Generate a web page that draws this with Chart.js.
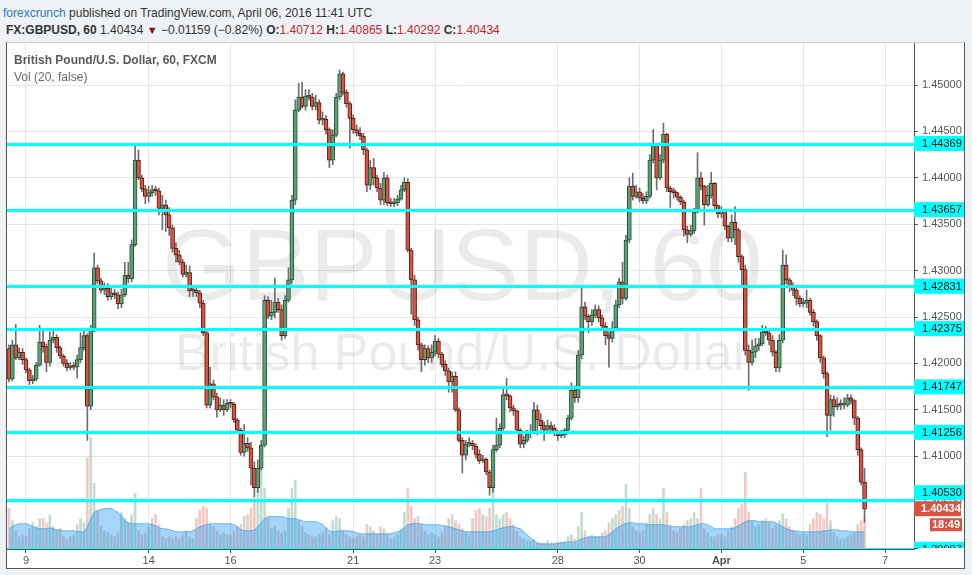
<!DOCTYPE html>
<html>
<head>
<meta charset="utf-8">
<title>GBPUSD 60</title>
<script src="https://cdn.jsdelivr.net/npm/chart.js@4.4.0/dist/chart.umd.min.js"></script>
<style>
  html, body { margin: 0; padding: 0; }
  body {
    width: 972px; height: 575px; overflow: hidden; position: relative;
    background: #eff2f5;
    font-family: "Liberation Sans", Arial, sans-serif;
  }
  .hdr { position: absolute; font-size: 12px; line-height: 14px; color: #333; white-space: nowrap; }
  #line1 { left: 3px; top: 6px; }
  #line2 { left: 6px; top: 23px; }
  .brand { color: #2f78bd; }
  .red { color: #c0282d; }
  .arrow { color: #8b1414; font-size: 11px; }
  #box {
    position: absolute; left: 6px; top: 42px; width: 957px; height: 525px;
    border: 1px solid #555; border-top-color: #cfcfcf; background: #fff;
  }
  canvas { display: block; }
</style>
</head>
<body>
<div class="hdr" id="line1"><span class="brand">forexcrunch</span> published on TradingView.com, April 06, 2016 11:41 UTC</div>
<div class="hdr" id="line2"><b>FX:GBPUSD, 60</b> 1.40434 <span class="arrow">▼</span> −0.01159 (−0.82%) <b>O:</b><span class="red">1.40712</span> <b>H:</b><span class="red">1.40865</span> <b>L:</b><span class="red">1.40292</span> <b>C:</b><span class="red">1.40434</span></div>
<div id="box"><canvas id="chart" width="957" height="525"></canvas></div>

<script>
'use strict';

// 2-hour bars. Bar 0 = start of the 9 Mar session.
const firstBar = -5;
const firstOpen = 1.4216;

const closes = [
  1.4183, 1.4220, 1.4206, 1.4212, 1.4204, 1.4193, 1.4181, 1.4183, 1.4198, 1.4223,
  1.4218, 1.4201, 1.4225, 1.4228, 1.4217, 1.4208, 1.4200, 1.4195, 1.4197, 1.4196,
  1.4204, 1.4217, 1.4230, 1.4154, 1.4236, 1.4303, 1.4289, 1.4279, 1.4281, 1.4272,
  1.4276, 1.4274, 1.4264, 1.4274, 1.4295, 1.4291, 1.4328, 1.4419, 1.4400, 1.4388,
  1.4380, 1.4384, 1.4387, 1.4386, 1.4367, 1.4371, 1.4360, 1.4346, 1.4324, 1.4317,
  1.4309, 1.4296, 1.4298, 1.4278, 1.4279, 1.4276, 1.4265, 1.4233, 1.4155, 1.4178,
  1.4164, 1.4150, 1.4155, 1.4150, 1.4157, 1.4156, 1.4139, 1.4128, 1.4104, 1.4114,
  1.4109, 1.4087, 1.4066, 1.4087, 1.4112, 1.4268, 1.4251, 1.4255, 1.4266, 1.4258,
  1.4230, 1.4268, 1.4290, 1.4376, 1.4473, 1.4487, 1.4477, 1.4488, 1.4487, 1.4477,
  1.4481, 1.4462, 1.4463, 1.4452, 1.4419, 1.4446, 1.4487, 1.4512, 1.4492, 1.4480,
  1.4464, 1.4452, 1.4448, 1.4445, 1.4430, 1.4392, 1.4411, 1.4400, 1.4389, 1.4376,
  1.4400, 1.4373, 1.4372, 1.4373, 1.4377, 1.4387, 1.4395, 1.4322, 1.4290, 1.4247,
  1.4220, 1.4204, 1.4216, 1.4206, 1.4212, 1.4224, 1.4210, 1.4199, 1.4192, 1.4180,
  1.4186, 1.4150, 1.4117, 1.4101, 1.4113, 1.4114, 1.4111, 1.4102, 1.4095, 1.4097,
  1.4083, 1.4066, 1.4107, 1.4112, 1.4130, 1.4166, 1.4165, 1.4152, 1.4149, 1.4128,
  1.4113, 1.4117, 1.4124, 1.4126, 1.4150, 1.4139, 1.4133, 1.4128, 1.4133, 1.4130,
  1.4126, 1.4122, 1.4123, 1.4128, 1.4141, 1.4171, 1.4163, 1.4209, 1.4261, 1.4251,
  1.4245, 1.4252, 1.4258, 1.4249, 1.4240, 1.4230, 1.4227, 1.4238, 1.4263, 1.4288,
  1.4270, 1.4333, 1.4391, 1.4380, 1.4385, 1.4378, 1.4375, 1.4380, 1.4419, 1.4435,
  1.4400, 1.4419, 1.4447, 1.4389, 1.4385, 1.4384, 1.4379, 1.4374, 1.4344, 1.4339,
  1.4343, 1.4363, 1.4400, 1.4391, 1.4371, 1.4381, 1.4394, 1.4370, 1.4361, 1.4364,
  1.4348, 1.4335, 1.4352, 1.4344, 1.4315, 1.4301, 1.4214, 1.4201, 1.4212, 1.4219,
  1.4221, 1.4234, 1.4233, 1.4225, 1.4212, 1.4195, 1.4225, 1.4306, 1.4290, 1.4282,
  1.4279, 1.4270, 1.4264, 1.4265, 1.4268, 1.4255, 1.4245, 1.4230, 1.4206, 1.4189,
  1.4144, 1.4161, 1.4153, 1.4156, 1.4155, 1.4155, 1.4163, 1.4160, 1.4141, 1.4107,
  1.4072, 1.4043
];

const highs = [
  1.4220, 1.4225, 1.4242, 1.4217, 1.4216, 1.4206, 1.4195, 1.4187, 1.4201, 1.4241,
  1.4236, 1.4221, 1.4234, 1.4236, 1.4231, 1.4219, 1.4210, 1.4204, 1.4201, 1.4201,
  1.4209, 1.4233, 1.4236, 1.4232, 1.4241, 1.4319, 1.4306, 1.4292, 1.4287, 1.4286,
  1.4281, 1.4280, 1.4277, 1.4280, 1.4309, 1.4309, 1.4333, 1.4436, 1.4430, 1.4403,
  1.4392, 1.4391, 1.4392, 1.4391, 1.4389, 1.4381, 1.4376, 1.4368, 1.4349, 1.4330,
  1.4322, 1.4312, 1.4306, 1.4305, 1.4283, 1.4282, 1.4279, 1.4268, 1.4236, 1.4196,
  1.4182, 1.4168, 1.4163, 1.4161, 1.4161, 1.4161, 1.4158, 1.4141, 1.4130, 1.4134,
  1.4120, 1.4115, 1.4094, 1.4096, 1.4117, 1.4273, 1.4272, 1.4268, 1.4292, 1.4270,
  1.4263, 1.4273, 1.4303, 1.4381, 1.4484, 1.4502, 1.4503, 1.4495, 1.4495, 1.4491,
  1.4489, 1.4484, 1.4471, 1.4467, 1.4454, 1.4452, 1.4491, 1.4516, 1.4514, 1.4495,
  1.4482, 1.4468, 1.4457, 1.4454, 1.4448, 1.4432, 1.4419, 1.4421, 1.4403, 1.4394,
  1.4406, 1.4403, 1.4378, 1.4378, 1.4381, 1.4392, 1.4400, 1.4399, 1.4324, 1.4295,
  1.4250, 1.4222, 1.4220, 1.4219, 1.4220, 1.4230, 1.4227, 1.4212, 1.4203, 1.4195,
  1.4191, 1.4191, 1.4152, 1.4120, 1.4117, 1.4120, 1.4117, 1.4113, 1.4107, 1.4101,
  1.4098, 1.4085, 1.4112, 1.4141, 1.4135, 1.4173, 1.4184, 1.4166, 1.4155, 1.4150,
  1.4130, 1.4122, 1.4128, 1.4134, 1.4158, 1.4155, 1.4146, 1.4137, 1.4139, 1.4137,
  1.4134, 1.4128, 1.4128, 1.4130, 1.4144, 1.4179, 1.4176, 1.4214, 1.4282, 1.4266,
  1.4253, 1.4258, 1.4263, 1.4262, 1.4252, 1.4244, 1.4234, 1.4245, 1.4268, 1.4292,
  1.4309, 1.4338, 1.4400, 1.4405, 1.4392, 1.4389, 1.4383, 1.4385, 1.4425, 1.4452,
  1.4437, 1.4425, 1.4459, 1.4448, 1.4391, 1.4389, 1.4385, 1.4381, 1.4376, 1.4348,
  1.4349, 1.4367, 1.4427, 1.4406, 1.4392, 1.4392, 1.4406, 1.4395, 1.4371, 1.4369,
  1.4366, 1.4349, 1.4360, 1.4369, 1.4346, 1.4317, 1.4306, 1.4220, 1.4225, 1.4227,
  1.4227, 1.4241, 1.4240, 1.4236, 1.4230, 1.4214, 1.4231, 1.4322, 1.4317, 1.4292,
  1.4287, 1.4282, 1.4273, 1.4270, 1.4279, 1.4270, 1.4258, 1.4247, 1.4231, 1.4208,
  1.4191, 1.4166, 1.4165, 1.4163, 1.4161, 1.4163, 1.4167, 1.4166, 1.4161, 1.4143,
  1.4109, 1.4087
];

const lows = [
  1.4180, 1.4181, 1.4204, 1.4204, 1.4199, 1.4190, 1.4177, 1.4178, 1.4181, 1.4197,
  1.4212, 1.4191, 1.4197, 1.4222, 1.4212, 1.4205, 1.4197, 1.4192, 1.4193, 1.4193,
  1.4184, 1.4201, 1.4214, 1.4117, 1.4150, 1.4234, 1.4286, 1.4276, 1.4274, 1.4268,
  1.4269, 1.4270, 1.4259, 1.4260, 1.4272, 1.4287, 1.4288, 1.4326, 1.4398, 1.4385,
  1.4372, 1.4374, 1.4380, 1.4381, 1.4360, 1.4344, 1.4342, 1.4338, 1.4320, 1.4309,
  1.4306, 1.4293, 1.4293, 1.4272, 1.4272, 1.4272, 1.4260, 1.4230, 1.4152, 1.4152,
  1.4161, 1.4142, 1.4148, 1.4144, 1.4148, 1.4152, 1.4136, 1.4125, 1.4101, 1.4100,
  1.4105, 1.4069, 1.4056, 1.4061, 1.4085, 1.4110, 1.4248, 1.4247, 1.4249, 1.4255,
  1.4225, 1.4227, 1.4266, 1.4286, 1.4371, 1.4471, 1.4475, 1.4473, 1.4484, 1.4473,
  1.4473, 1.4458, 1.4457, 1.4447, 1.4411, 1.4414, 1.4444, 1.4484, 1.4489, 1.4476,
  1.4432, 1.4448, 1.4445, 1.4441, 1.4425, 1.4385, 1.4387, 1.4392, 1.4385, 1.4371,
  1.4371, 1.4370, 1.4369, 1.4369, 1.4370, 1.4376, 1.4385, 1.4320, 1.4253, 1.4241,
  1.4214, 1.4191, 1.4198, 1.4201, 1.4201, 1.4208, 1.4206, 1.4196, 1.4187, 1.4169,
  1.4169, 1.4148, 1.4115, 1.4082, 1.4096, 1.4110, 1.4107, 1.4098, 1.4092, 1.4093,
  1.4080, 1.4058, 1.4061, 1.4105, 1.4109, 1.4128, 1.4161, 1.4148, 1.4144, 1.4125,
  1.4109, 1.4109, 1.4115, 1.4120, 1.4124, 1.4123, 1.4128, 1.4117, 1.4126, 1.4126,
  1.4122, 1.4117, 1.4120, 1.4120, 1.4126, 1.4139, 1.4158, 1.4158, 1.4205, 1.4247,
  1.4233, 1.4241, 1.4249, 1.4245, 1.4236, 1.4220, 1.4196, 1.4223, 1.4236, 1.4260,
  1.4264, 1.4268, 1.4330, 1.4376, 1.4378, 1.4374, 1.4372, 1.4372, 1.4378, 1.4416,
  1.4387, 1.4398, 1.4416, 1.4385, 1.4368, 1.4378, 1.4376, 1.4371, 1.4337, 1.4330,
  1.4337, 1.4340, 1.4362, 1.4387, 1.4349, 1.4369, 1.4378, 1.4365, 1.4357, 1.4357,
  1.4344, 1.4331, 1.4331, 1.4328, 1.4309, 1.4284, 1.4209, 1.4171, 1.4198, 1.4206,
  1.4214, 1.4219, 1.4230, 1.4220, 1.4208, 1.4191, 1.4191, 1.4222, 1.4286, 1.4277,
  1.4273, 1.4263, 1.4261, 1.4261, 1.4260, 1.4252, 1.4240, 1.4225, 1.4201, 1.4184,
  1.4121, 1.4128, 1.4143, 1.4150, 1.4150, 1.4151, 1.4153, 1.4156, 1.4134, 1.4101,
  1.4069, 1.4029
];

// volume, in hundreds of ticks
const volumes = [
  40, 28, 18, 12, 14, 12, 20, 26, 22, 30,
  30, 26, 34, 22, 18, 20, 12, 10, 12, 14,
  24, 30, 26, 90, 110, 65, 38, 22, 18, 16,
  14, 12, 16, 36, 30, 26, 34, 55, 18, 14,
  16, 22, 30, 34, 24, 12, 10, 12, 10, 12,
  10, 14, 18, 12, 10, 30, 38, 42, 40, 24,
  22, 18, 14, 16, 14, 14, 18, 22, 24, 32,
  34, 40, 50, 65, 88, 60, 30, 20, 22, 18,
  16, 18, 40, 60, 68, 28, 22, 16, 14, 12,
  12, 14, 16, 20, 14, 28, 32, 30, 18, 14,
  12, 10, 12, 14, 12, 24, 22, 18, 14, 22,
  20, 14, 10, 12, 14, 20, 36, 60, 42, 30,
  32, 24, 18, 14, 16, 14, 12, 16, 22, 30,
  34, 28, 24, 20, 16, 14, 30, 38, 40, 34,
  32, 40, 70, 34, 30, 34, 36, 30, 24, 18,
  12, 10, 8, 8, 10, 6, 6, 6, 8, 6,
  6, 6, 7, 8, 12, 14, 10, 22, 36, 18,
  12, 14, 12, 12, 16, 18, 26, 30, 34, 38,
  42, 64, 40, 22, 18, 16, 18, 26, 34, 40,
  34, 30, 60, 36, 22, 18, 16, 20, 24, 28,
  30, 36, 30, 60, 20, 16, 12, 12, 14, 14,
  12, 18, 22, 30, 40, 44, 76, 36, 28, 22,
  24, 28, 30, 26, 20, 24, 28, 35, 30, 22,
  18, 16, 14, 16, 14, 24, 30, 36, 34, 30,
  45, 28, 16, 12, 10, 10, 12, 14, 16, 24,
  28, 30
];

// Vol (20) moving average as drawn on the chart
const volumeMA = [
  20, 22, 24, 25, 25, 25, 24, 22, 21, 20,
  20, 20, 21, 20, 19, 19, 18, 18, 18, 18,
  17, 17, 17, 22, 30, 36, 38, 39, 40, 40,
  40, 38, 36, 33, 28, 26, 25, 25, 25, 25,
  25, 25, 24, 23, 21, 20, 20, 19, 18, 17,
  17, 17, 17, 17, 18, 20, 22, 23, 24, 25,
  25, 25, 25, 25, 25, 25, 24, 22, 19, 18,
  18, 18, 19, 22, 26, 30, 32, 32, 32, 32,
  32, 31, 30, 30, 30, 29, 28, 27, 27, 27,
  27, 26, 24, 21, 18, 17, 17, 18, 18, 18,
  18, 17, 16, 15, 15, 15, 15, 15, 15, 15,
  15, 15, 15, 16, 17, 18, 21, 24, 25, 25,
  25, 25, 24, 24, 24, 24, 24, 23, 23, 22,
  21, 20, 19, 18, 17, 17, 17, 17, 17, 17,
  17, 17, 18, 19, 20, 21, 22, 22, 22, 21,
  20, 17, 14, 11, 8, 6, 5, 5, 5, 5,
  5, 6, 6, 6, 7, 7, 7, 8, 10, 11,
  12, 12, 12, 12, 12, 12, 14, 17, 20, 22,
  24, 25, 26, 26, 25, 25, 25, 24, 24, 24,
  24, 24, 24, 23, 23, 22, 22, 22, 22, 22,
  22, 23, 24, 25, 25, 24, 22, 20, 20, 20,
  20, 20, 20, 21, 23, 25, 27, 28, 28, 28,
  27, 27, 27, 27, 27, 26, 24, 22, 20, 19,
  18, 18, 17, 17, 17, 17, 17, 17, 17, 18,
  18, 19, 19, 19, 18, 18, 18, 17, 17, 17,
  17, 17
];

const dayLabels = ['9', '14', '16', '21', '23', '28', '30', 'Apr', '5', '7'];
const dayOffsets = [0, 3, 5, 8, 10, 13, 15, 17, 19, 21]; // trading days after 9 Mar
const barsPerDay = 12;

const levels = [1.44369, 1.43657, 1.42831, 1.42375, 1.41747, 1.41256, 1.40530, 1.39997];
const lastPrice = 1.40434;
const countdown = '18:49';

const FONT = '"Liberation Sans", Arial, sans-serif';
const UP = '#5f9f78', DOWN = '#d75442';
const UP_BORDER = '#225437', DOWN_BORDER = '#5b1a13';

const opens = closes.map((c, i) => i === 0 ? firstOpen : closes[i - 1]);
const xs = closes.map((c, i) => firstBar + i);
const isUp = i => closes[i] >= opens[i];

const wickData = xs.map((x, i) => ({ x: x, y: [lows[i], highs[i]] }));
const bodyData = xs.map((x, i) => ({ x: x, y: [opens[i], closes[i]] }));
const volData = xs.map((x, i) => ({ x: x, y: volumes[i] }));
const maData = xs.map((x, i) => ({ x: x, y: volumeMA[i] }));

const tickLabel = {};
dayOffsets.forEach((d, k) => { tickLabel[d * barsPerDay] = dayLabels[k]; });

function labelBox(ctx, x, y, w, h, bg, fg, text, bold) {
    ctx.fillStyle = bg;
    ctx.fillRect(x, y, w, h);
    ctx.fillStyle = fg;
    ctx.font = (bold ? 'bold ' : '') + '11px ' + FONT;
    ctx.textAlign = 'left';
    ctx.textBaseline = 'middle';
    ctx.fillText(text, x + 8, y + h / 2 + 0.5);
}

// no extra room for edge labels: the pane fills the box like TradingView
function noPad(s) {
    s.paddingTop = 0;
    s.paddingBottom = 0;
    s.paddingLeft = 0;
    s.paddingRight = 0;
}

const tvDecor = {
    id: 'tvDecor',
    beforeDatasetsDraw(chart) {
        const ctx = chart.ctx;
        const a = chart.chartArea;
        const cx = (a.left + a.right) / 2 + 2;
        ctx.save();
        ctx.fillStyle = 'rgba(0,0,0,0.08)';
        ctx.textAlign = 'center';
        ctx.textBaseline = 'alphabetic';
        ctx.font = '102px ' + FONT;
        ctx.fillText('GBPUSD, 60', cx, 257);
        ctx.font = '52px ' + FONT;
        ctx.fillText('British Pound/U.S. Dollar', cx, 327);
        ctx.restore();
    },
    afterDatasetsDraw(chart) {
        const ctx = chart.ctx;
        const a = chart.chartArea;
        const y = chart.scales.y;
        ctx.save();
        ctx.beginPath();
        ctx.rect(a.left, a.top, a.right - a.left, a.bottom - a.top);
        ctx.clip();
        ctx.strokeStyle = '#00ffff';
        ctx.lineWidth = 3;
        levels.forEach(v => {
            const py = Math.round(y.getPixelForValue(v)) + 0.5;
            ctx.beginPath();
            ctx.moveTo(a.left, py);
            ctx.lineTo(a.right, py);
            ctx.stroke();
        });
        ctx.restore();
    },
    afterDraw(chart) {
        const ctx = chart.ctx;
        const a = chart.chartArea;
        const y = chart.scales.y;
        ctx.save();

        // pane legend
        ctx.textAlign = 'left';
        ctx.textBaseline = 'middle';
        ctx.fillStyle = '#5a5a5a';
        ctx.font = 'bold 12px ' + FONT;
        ctx.fillText('British Pound/U.S. Dollar, 60, FXCM', 7, 18);
        ctx.fillStyle = '#6a6a6a';
        ctx.font = '12px ' + FONT;
        ctx.fillText('Vol (20, false)', 7, 35);

        // price scale labels
        ctx.beginPath();
        ctx.rect(a.right, 0, chart.width - a.right, a.bottom - 1);
        ctx.clip();
        const h = 15;
        const lastY = y.getPixelForValue(lastPrice);
        const lastTop = lastY - h / 2;
        levels.forEach(v => {
            let top = y.getPixelForValue(v) - h / 2;
            if (top < lastTop + h && top + h > lastTop) {
                top = lastTop - h - 1;
            }
            labelBox(ctx, a.right, top, chart.width - a.right, h, '#00ffff', '#111', v.toFixed(5), false);
        });
        labelBox(ctx, a.right - 1, lastTop, 48, h, DOWN, '#fff', lastPrice.toFixed(5), true);
        ctx.restore();

        ctx.save();
        ctx.fillStyle = DOWN;
        ctx.fillRect(a.right + 16, lastTop + h + 2, 32, 13);
        ctx.fillStyle = '#fff';
        ctx.font = 'bold 11px ' + FONT;
        ctx.textAlign = 'center';
        ctx.textBaseline = 'middle';
        ctx.fillText(countdown, a.right + 32, lastTop + h + 9);
        ctx.restore();
    }
};

new Chart(document.getElementById('chart'), {
    type: 'bar',
    data: {
        datasets: [
            {
                type: 'line',
                data: maData,
                yAxisID: 'yv',
                order: 3,
                fill: 'origin',
                backgroundColor: 'rgba(30,150,240,0.4)',
                borderColor: 'rgba(30,150,240,0.6)',
                borderWidth: 1,
                pointRadius: 0,
                tension: 0
            },
            {
                data: volData,
                yAxisID: 'yv',
                order: 4,
                grouped: false,
                barThickness: 2,
                backgroundColor: c => isUp(c.dataIndex) ? 'rgba(107,165,131,0.4)' : 'rgba(215,84,66,0.32)'
            },
            {
                data: wickData,
                yAxisID: 'y',
                order: 2,
                grouped: false,
                barThickness: 1,
                backgroundColor: '#6e6e70'
            },
            {
                data: bodyData,
                yAxisID: 'y',
                order: 1,
                grouped: false,
                barThickness: 4,
                minBarLength: 2,
                borderWidth: 1,
                borderSkipped: false,
                backgroundColor: c => isUp(c.dataIndex) ? UP : DOWN,
                borderColor: c => isUp(c.dataIndex) ? UP_BORDER : DOWN_BORDER
            }
        ]
    },
    options: {
        responsive: false,
        animation: false,
        layout: { padding: 0 },
        plugins: { legend: { display: false }, tooltip: { enabled: false } },
        scales: {
            x: {
                type: 'linear',
                offset: false,
                min: -5.57,
                max: 260.5,
                afterBuildTicks: s => { s.ticks = dayOffsets.map(d => ({ value: d * barsPerDay })); },
                afterFit: s => { s.height = 19; noPad(s); },
                grid: { color: '#e6e6e6', tickLength: 4, tickColor: '#555', offset: false },
                border: { color: '#555' },
                ticks: {
                    autoSkip: false,
                    maxRotation: 0,
                    padding: 1,
                    color: '#555',
                    font: c => ({ family: FONT, size: 11, weight: (c.tick && c.tick.label === 'Apr') ? 'bold' : 'normal' }),
                    callback: v => tickLabel[v] || ''
                }
            },
            y: {
                position: 'right',
                min: 1.4,
                max: 1.454526,
                afterFit: s => { s.width = 50; noPad(s); },
                grid: { color: '#e6e6e6', tickLength: 4, tickColor: '#555' },
                border: { color: '#555' },
                ticks: {
                    stepSize: 0.005,
                    includeBounds: false,
                    padding: 4,
                    color: '#555',
                    font: { family: FONT, size: 11 },
                    callback: v => v < 1.4025 ? '' : v.toFixed(5)
                }
            },
            yv: { display: false, min: 0, max: 500 }
        }
    },
    plugins: [tvDecor]
});
</script>
</body>
</html>
